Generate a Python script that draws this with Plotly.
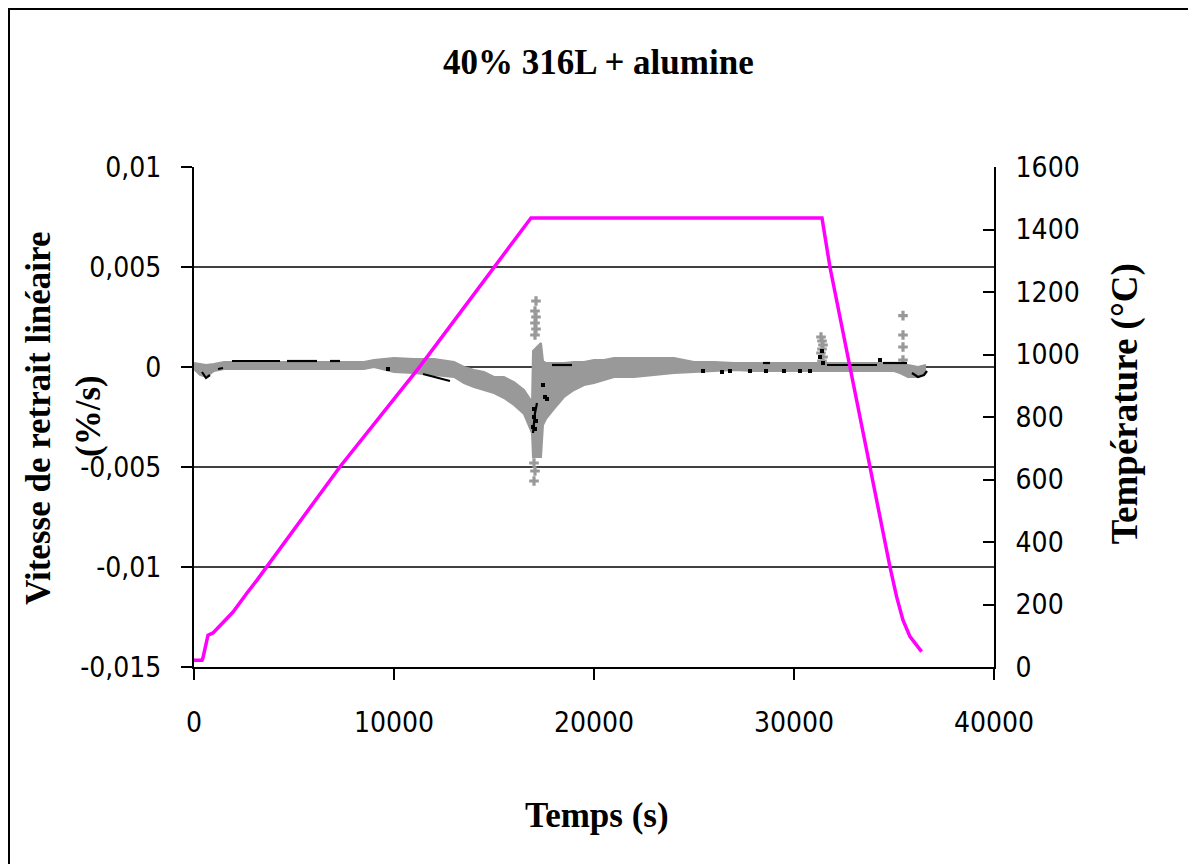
import plotly.graph_objects as go

# ---------------- data ----------------
# Temperature programme (secondary axis)
temp_t = [0, 400, 450, 650, 700, 950, 1450, 1950, 2650, 3150, 7300, 11300, 16850,
          31400, 31800, 32800, 33800, 34800, 35130, 35450, 35800, 36380]
temp_T = [22, 22, 30, 95, 102, 109, 141, 176, 237, 278, 641, 962, 1437,
          1437, 1279, 966, 640, 320, 225, 150, 97, 49]

# Grey series (dense cloud) read as an upper / lower envelope
band_t = [0, 300, 600, 1000, 1500, 3000, 6000, 8500, 9000, 10000, 11000, 12000, 13000,
          13500, 14000, 14500, 15000, 15500, 16000, 16500, 16800, 16900, 16950, 17350,
          17450, 17600, 18000, 18500, 19000, 19500, 20000, 20500, 21000, 22000,
          23000, 24000, 25000, 26000, 27000, 28000, 31200, 35000, 35300, 35700, 36200, 36600]
band_hi = [0.0002, 0.00015, 0.0001, 0.00015, 0.00025, 0.00025, 0.00025, 0.00025, 0.00035,
           0.00045, 0.0004, 0.0004, 0.00025, 0.0, -0.00015, -0.00025, -0.0005, -0.0005,
           -0.00075, -0.00115, -0.0016, -0.0018, 0.0008, 0.0012, 0.0003, 0.0002,
           0.0002, 0.0002, 0.00025, 0.00025, 0.00035, 0.00035, 0.00045, 0.00045, 0.00045,
           0.00045, 0.00025, 0.00025, 0.0002, 0.0002, 0.0002, 0.0002, 0.0002, 0.0001, 0.0,
           0.0001]
band_lo = [-0.0001, -0.0004, -0.0005, -0.0002, -0.0001, -0.0001, -0.0001, -0.0001, 0.0,
           -0.00025, -0.0003, -0.0004, -0.0005, -0.0008, -0.001, -0.00115, -0.0013,
           -0.00155, -0.0019, -0.00235, -0.003, -0.0033, -0.0045, -0.0045, -0.0029,
           -0.0026, -0.0021, -0.0015, -0.00115, -0.0009, -0.0008, -0.00065, -0.0005,
           -0.0005, -0.0004, -0.0003, -0.00025, -0.0002, -0.00015, -0.0002, -0.0002,
           -0.0002, -0.0003, -0.0005, -0.0005, -0.0003]

# Isolated grey points (spikes)
spike_t = [17100, 17050, 17100, 17050, 17100, 17050, 17000, 17050, 17000,
           31350, 31400, 31450, 31400, 31350, 31450, 31400,
           35450, 35450, 35450, 35450]
spike_v = [0.0033, 0.0028, 0.0025, 0.0022, 0.0019, 0.0016, -0.0048, -0.0052, -0.0057,
           0.0015, 0.0013, 0.0011, 0.0009, 0.0007, 0.0005, 0.0003,
           0.00257, 0.0016, 0.001, 0.00035]

# Black series: short runs visible above the grey cloud
black_seg_t = [400, 600, 800, None, 1200, 1450, None, 1900, 4300, None, 4650, 6150, None,
               6800, 7300, None, 11450, 12300, 12800, None, 16950, 17000, 17050, 17150, None,
               17900, 18900, None, 28450, 28800, None, 31650, 34150, None, 34450, 35650, None,
               35900, 36200, 36500, 36650]
black_seg_v = [-0.00025, -0.00055, -0.0004, None, -0.0001, -0.00005, None, 0.0003, 0.0003,
               None, 0.0003, 0.0003, None, 0.0003, 0.0003, None, -0.00035, -0.00055, -0.0007,
               None, -0.0033, -0.0028, -0.0023, -0.0018, None, 0.0001, 0.0001, None,
               0.0002, 0.0002, None, 0.0001, 0.0001, None, 0.0002, 0.0002, None,
               -0.0003, -0.0005, -0.0004, -0.0002]
black_pt_t = [9700, 16950, 17000, 17050, 17000, 17100, 17450, 17550, 17650, 25450, 26400,
              26800, 27800, 28600, 29500, 30300, 30800, 31300, 31400, 31450, 34300]
black_pt_v = [-0.0001, -0.0030, -0.0025, -0.0031, -0.0021, -0.0027, -0.0009, -0.0015,
              -0.0016, -0.0002, -0.00025, -0.0002, -0.0002, -0.0002, -0.0002, -0.0002,
              -0.0002, 0.0005, 0.0008, 0.0002, 0.00035]

x_ticks = [0, 10000, 20000, 30000, 40000]
y_ticks = [-0.015, -0.01, -0.005, 0, 0.005, 0.01]
y_ticktext = ["-0,015", "-0,01", "-0,005", "0", "0,005", "0,01"]
grid_vals = [-0.01, -0.005, 0, 0.005]
y2_ticks = [0, 200, 400, 600, 800, 1000, 1200, 1400, 1600]

GRAY = "#999999"
MAGENTA = "#FF00FF"
TICKFONT = dict(family="DejaVu Sans Condensed, sans-serif", size=28, color="black")
SERIF = "Liberation Serif, Times New Roman, serif"

fig = go.Figure()
fig.add_trace(go.Scatter(x=band_t, y=band_lo, mode="lines",
                         line=dict(color=GRAY, width=2), hoverinfo="skip", showlegend=False))
fig.add_trace(go.Scatter(x=band_t, y=band_hi, mode="lines", fill="tonexty", fillcolor=GRAY,
                         line=dict(color=GRAY, width=2), hoverinfo="skip", showlegend=False))
fig.add_trace(go.Scatter(x=spike_t, y=spike_v, mode="markers",
                         marker=dict(symbol="cross", size=8, color=GRAY),
                         showlegend=False))
fig.add_trace(go.Scatter(x=black_seg_t, y=black_seg_v, mode="lines",
                         line=dict(color="black", width=2.2), connectgaps=False,
                         showlegend=False))
fig.add_trace(go.Scatter(x=black_pt_t, y=black_pt_v, mode="markers",
                         marker=dict(symbol="square", size=4, color="black"),
                         showlegend=False))
fig.add_trace(go.Scatter(x=temp_t, y=temp_T, mode="lines", yaxis="y2",
                         line=dict(color=MAGENTA, width=3.5), showlegend=False))

shapes = []
for v in grid_vals:
    shapes.append(dict(type="line", xref="paper", x0=0, x1=1, yref="y", y0=v, y1=v,
                       line=dict(color="black", width=1.5), layer="below"))
# outer chart frame
shapes.append(dict(type="rect", xref="paper", yref="paper",
                   x0=-0.23125, x1=1.25, y0=-0.40, y1=1.316,
                   line=dict(color="black", width=2), fillcolor="rgba(0,0,0,0)"))

TITLEFONT = dict(family=SERIF, size=35, color="black")
annotations = [
    dict(text="<b>Vitesse de retrait linéaire</b>", xref="paper", yref="paper",
         x=-0.195, y=0.498, textangle=-90, showarrow=False,
         font=TITLEFONT, xanchor="center", yanchor="middle"),
    dict(text="<b>(%/s)</b>", xref="paper", yref="paper",
         x=-0.1325, y=0.502, textangle=-90, showarrow=False,
         font=TITLEFONT, xanchor="center", yanchor="middle"),
    dict(text="<b>Température (°C)</b>", xref="paper", yref="paper",
         x=1.164, y=0.526, textangle=-90, showarrow=False,
         font=dict(family=SERIF, size=37, color="black"), xanchor="center", yanchor="middle"),
    dict(text="<b>Temps (s)</b>", xref="paper", yref="paper",
         x=0.504, y=-0.296, showarrow=False,
         font=TITLEFONT, xanchor="center", yanchor="middle"),
    dict(text="<b>40% 316L + alumine</b>", xref="paper", yref="paper",
         x=0.505, y=1.21, showarrow=False,
         font=dict(family=SERIF, size=35, color="black"), xanchor="center", yanchor="middle"),
]

fig.update_layout(
    width=1188, height=856,
    margin=dict(l=186, r=202, t=159, b=197),
    paper_bgcolor="white", plot_bgcolor="white",
    xaxis=dict(range=[0, 40000], tickvals=x_ticks, ticktext=[str(v) for v in x_ticks],
               showgrid=False, zeroline=False, showline=True, linecolor="black", linewidth=2,
               ticks="outside", ticklen=11, tickwidth=2, tickcolor="black",
               tickfont=TICKFONT, ticklabelstandoff=18),
    yaxis=dict(range=[-0.015, 0.01], tickvals=y_ticks, ticktext=y_ticktext,
               showgrid=False, zeroline=False, showline=True, linecolor="black", linewidth=2,
               ticks="outside", ticklen=11, tickwidth=2, tickcolor="black",
               tickfont=TICKFONT, ticklabelstandoff=14),
    yaxis2=dict(range=[0, 1600], tickvals=y2_ticks, overlaying="y", side="right",
                showgrid=False, zeroline=False, showline=True, linecolor="black", linewidth=2,
                ticks="inside", ticklen=11, tickwidth=2, tickcolor="black",
                tickfont=TICKFONT, ticklabelstandoff=14),
    shapes=shapes,
    annotations=annotations,
)

fig.write_html("out.html")
